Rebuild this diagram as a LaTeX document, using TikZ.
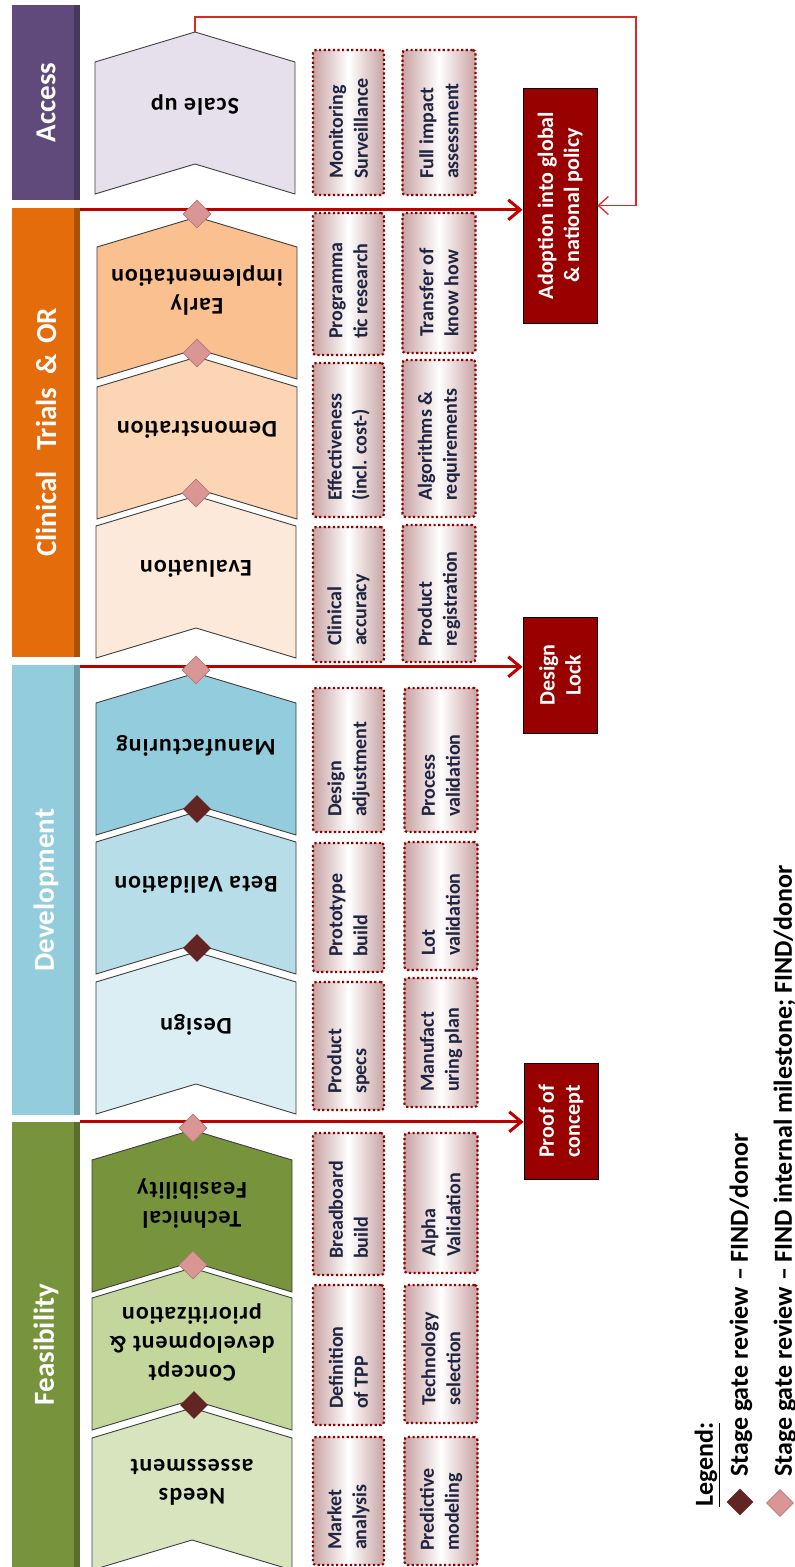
\documentclass[tikz,border=0pt]{standalone}
\usepackage{fontspec}
\setmainfont{Carlito}
\newfontfamily\spacedfont[LetterSpace=4]{Carlito}
\usetikzlibrary{shapes.geometric,arrows.meta}

\definecolor{accesscol}{HTML}{604A7B}
\definecolor{trialscol}{HTML}{E46C0A}
\definecolor{develcol}{HTML}{93CDDD}
\definecolor{feascol}{HTML}{77933C}
\definecolor{scalecol}{HTML}{E6E0EC}
\definecolor{earlycol}{HTML}{FAC090}
\definecolor{democol}{HTML}{FCD5B5}
\definecolor{evalcol}{HTML}{FDE9D9}
\definecolor{manucol}{HTML}{93CDDD}
\definecolor{betacol}{HTML}{B7DEE8}
\definecolor{designcol}{HTML}{DBEEF4}
\definecolor{techcol}{HTML}{77933C}
\definecolor{conceptcol}{HTML}{C3D69B}
\definecolor{needscol}{HTML}{D7E4BD}
\definecolor{chevline}{HTML}{3F3F3F}
\definecolor{darkgate}{HTML}{632523}
\definecolor{pinkgate}{HTML}{D99694}
\definecolor{pinkedge}{HTML}{B97574}
\definecolor{linered}{HTML}{C00000}
\definecolor{fbred}{HTML}{D42A2A}
\definecolor{gatered}{HTML}{990000}
\definecolor{boxred}{HTML}{8B0000}
\definecolor{boxpink}{HTML}{C9A3A3}
\definecolor{boxtextcol}{HTML}{1F2440}

\begin{document}
\begin{tikzpicture}[x=1pt,y=-1pt,
	phase/.style={minimum width=68pt, inner sep=0pt, text=white, font=\fontsize{29}{34}\selectfont\bfseries,
		path picture={\fill[black, opacity=0.25] ([xshift=-6pt]path picture bounding box.north east) rectangle (path picture bounding box.south east);}},
	chev/.style={draw=chevline, line width=0.9pt},
	chevtext/.style={rotate=180, align=center, inner sep=0pt, font=\spacedfont\bfseries\fontsize{24}{29}\selectfont},
	dotbox/.style={draw=boxred, line width=2.2pt, dash pattern=on 2.2pt off 2.4pt, rounded corners=3pt,
		left color=boxpink, right color=boxpink, middle color=white, inner sep=0pt},
	boxtext/.style={rotate=90, anchor=west, align=left, inner sep=0pt, text=boxtextcol, font=\bfseries\fontsize{20}{25}\selectfont},
	gatebox/.style={rotate=90, draw=black, line width=0.8pt, fill=gatered, text=white, align=center, minimum height=74pt, inner sep=2pt, font=\bfseries\fontsize{22}{26}\selectfont},
	gateline/.style={draw=linered, line width=3pt, -{Straight Barb[length=12pt,width=20pt]}},
	feedback/.style={draw=fbred, line width=1.3pt, -{Straight Barb[length=10pt,width=18pt]}},
	fdgate/.style={diamond, fill=darkgate, minimum size=28pt, inner sep=0pt},
	ingate/.style={diamond, fill=pinkgate, draw=pinkedge, line width=0.6pt, minimum size=28pt, inner sep=0pt},
	legtext/.style={rotate=90, anchor=west, inner sep=0pt, font=\bfseries\fontsize{26}{31}\selectfont}]
			\useasboundingbox (0,0) rectangle (795,1567);

			\node[phase, fill=accesscol, minimum height=195pt] (access) at (46,102.5) {\rotatebox{90}{Access}};
			\node[phase, fill=trialscol, minimum height=449pt] (trials) at (46,432.5) {\rotatebox{90}{Clinical\hspace{0.7em}Trials\hspace{0.45em}\&\hspace{0.35em}OR}};
			\node[phase, fill=develcol, minimum height=450pt] (devel) at (46,890) {\rotatebox{90}{Development}};
			\node[phase, fill=feascol, minimum height=445pt] (feas) at (46,1344.5) {\rotatebox{90}{Feasibility}};

			\filldraw[chev, fill=scalecol] (195,32) -- ++(100,30) -- ++(0,132) -- ++(-100,-30) -- ++(-100,30) -- ++(0,-132) -- cycle;
			\filldraw[chev, fill=earlycol] (197,217) -- ++(100,30) -- ++(0,132) -- ++(-100,-30) -- ++(-100,30) -- ++(0,-132) -- cycle;
			\filldraw[chev, fill=democol] (197,357) -- ++(100,30) -- ++(0,132) -- ++(-100,-30) -- ++(-100,30) -- ++(0,-132) -- cycle;
			\filldraw[chev, fill=evalcol] (196,496) -- ++(100,30) -- ++(0,132) -- ++(-100,-30) -- ++(-100,30) -- ++(0,-132) -- cycle;
			\filldraw[chev, fill=manucol] (196,673) -- ++(100,30) -- ++(0,132) -- ++(-100,-30) -- ++(-100,30) -- ++(0,-132) -- cycle;
			\filldraw[chev, fill=betacol] (196,812) -- ++(100,30) -- ++(0,132) -- ++(-100,-30) -- ++(-100,30) -- ++(0,-132) -- cycle;
			\filldraw[chev, fill=designcol] (196,952) -- ++(100,30) -- ++(0,132) -- ++(-100,-30) -- ++(-100,30) -- ++(0,-132) -- cycle;
			\filldraw[chev, fill=techcol] (192,1130) -- ++(100,30) -- ++(0,132) -- ++(-100,-30) -- ++(-100,30) -- ++(0,-132) -- cycle;
			\filldraw[chev, fill=conceptcol] (192,1268) -- ++(100,30) -- ++(0,132) -- ++(-100,-30) -- ++(-100,30) -- ++(0,-132) -- cycle;
			\filldraw[chev, fill=needscol] (192,1408) -- ++(100,30) -- ++(0,132) -- ++(-100,-30) -- ++(-100,30) -- ++(0,-132) -- cycle;

			\node[chevtext] (scaleup) at (195,105) {Scale up};
			\node[chevtext] (earlyimp) at (197,291) {Early\\implementation};
			\node[chevtext] (demo) at (197,430) {Demonstration};
			\node[chevtext] (evaluation) at (196,569) {Evaluation};
			\node[chevtext] (manuf) at (196,746) {Manufacturing};
			\node[chevtext] (betaval) at (196,885) {Beta Validation};
			\node[chevtext] (design) at (196,1025) {Design};
			\node[chevtext] (techfeas) at (192,1204) {Technical\\Feasibility};
			\node[chevtext] (concept) at (192,1342) {Concept\\development \&\\prioritization};
			\node[chevtext] (needs) at (192,1482) {Needs\\assessment};

			\node[dotbox, minimum width=71pt, minimum height=145pt] (mon) at (348.5,122.5) {};
			\node[dotbox, minimum width=71pt, minimum height=142pt] (prog) at (348.5,284) {};
			\node[dotbox, minimum width=71pt, minimum height=154pt] (effect) at (348.5,440) {};
			\node[dotbox, minimum width=71pt, minimum height=135pt] (clinacc) at (348.5,594.5) {};
			\node[dotbox, minimum width=71pt, minimum height=144pt] (desadj) at (348.5,760) {};
			\node[dotbox, minimum width=71pt, minimum height=129pt] (proto) at (348.5,907.5) {};
			\node[dotbox, minimum width=71pt, minimum height=128pt] (pspecs) at (348.5,1046) {};
			\node[dotbox, minimum width=71pt, minimum height=142pt] (bread) at (348.5,1204) {};
			\node[dotbox, minimum width=71pt, minimum height=140pt] (tpp) at (348.5,1355) {};
			\node[dotbox, minimum width=71pt, minimum height=128pt] (market) at (348.5,1501) {};

			\node[dotbox, minimum width=73pt, minimum height=145pt] (impact) at (439,122.5) {};
			\node[dotbox, minimum width=73pt, minimum height=140pt] (knowhow) at (439,283) {};
			\node[dotbox, minimum width=73pt, minimum height=157pt] (algo) at (439,438.5) {};
			\node[dotbox, minimum width=73pt, minimum height=137pt] (preg) at (439,593.5) {};
			\node[dotbox, minimum width=73pt, minimum height=144pt] (procval) at (441,760) {};
			\node[dotbox, minimum width=73pt, minimum height=128pt] (lotval) at (441,906) {};
			\node[dotbox, minimum width=73pt, minimum height=129pt] (mplan) at (441,1042.5) {};
			\node[dotbox, minimum width=73pt, minimum height=140pt] (alpha) at (441,1203) {};
			\node[dotbox, minimum width=73pt, minimum height=138pt] (techsel) at (441,1354) {};
			\node[dotbox, minimum width=73pt, minimum height=128pt] (predict) at (441,1501) {};

			\node[boxtext] (mon-t) at ([yshift=17pt]mon.south) {Monitoring\\Surveillance};
			\node[boxtext] (prog-t) at ([yshift=17pt]prog.south) {Programma\\tic research};
			\node[boxtext] (effect-t) at ([yshift=17pt]effect.south) {Effectiveness\\(incl. cost-)};
			\node[boxtext] (clinacc-t) at ([yshift=17pt]clinacc.south) {Clinical\\accuracy};
			\node[boxtext] (desadj-t) at ([yshift=16pt]desadj.south) {Design\\adjustment};
			\node[boxtext] (proto-t) at ([yshift=16pt]proto.south) {Prototype\\build};
			\node[boxtext] (pspecs-t) at ([yshift=17pt]pspecs.south) {Product\\specs};
			\node[boxtext] (bread-t) at ([yshift=17pt]bread.south) {Breadboard\\build};
			\node[boxtext] (tpp-t) at ([yshift=17pt]tpp.south) {Definition\\of TPP};
			\node[boxtext] (market-t) at ([yshift=16pt]market.south) {Market\\analysis};

			\node[boxtext] (impact-t) at ([yshift=17pt]impact.south) {Full impact\\assessment};
			\node[boxtext] (knowhow-t) at ([yshift=17pt]knowhow.south) {Transfer of\\know how};
			\node[boxtext] (algo-t) at ([yshift=17pt]algo.south) {Algorithms \&\\requirements};
			\node[boxtext] (preg-t) at ([yshift=16pt]preg.south) {Product\\registration};
			\node[boxtext] (procval-t) at ([yshift=16pt]procval.south) {Process\\validation};
			\node[boxtext] (lotval-t) at ([yshift=15pt]lotval.south) {Lot\\validation};
			\node[boxtext] (mplan-t) at ([yshift=16pt]mplan.south) {Manufact\\uring plan};
			\node[boxtext] (alpha-t) at ([yshift=17pt]alpha.south) {Alpha\\Validation};
			\node[boxtext] (techsel-t) at ([yshift=18pt]techsel.south) {Technology\\selection};
			\node[boxtext] (predict-t) at ([yshift=15pt]predict.south) {Predictive\\modeling};

			\node[gatebox, minimum width=235pt] (adopt) at (560,205.5) {Adoption into global\\\& national policy};
			\node[gatebox, minimum width=116pt] (dlock) at (560,675) {Design\\Lock};
			\node[gatebox, minimum width=116pt] (proof) at (561,1121) {Proof of\\concept};

			\draw[gateline] ([yshift=-2pt]trials.north east) -- ([yshift=-2pt]trials.north east -| adopt.north);
			\draw[gateline] ([yshift=-2pt]devel.north east) -- ([yshift=-2pt]devel.north east -| dlock.north);
			\draw[gateline] (feas.north east) -- (feas.north east -| proof.north);

			\coordinate (suapex) at (195,32);
			\coordinate (fbturn) at (636,17);
			\draw[feedback] (suapex) |- (fbturn) |- (adopt.south);

			\node[ingate] (g1) at (197,214) {};
			\node[ingate] (g2) at (197,353) {};
			\node[ingate] (g3) at (196,493) {};
			\node[ingate] (g4) at (196,670) {};
			\node[fdgate] (g5) at (197,809) {};
			\node[fdgate] (g6) at (197,948) {};
			\node[ingate] (g7) at (193,1128) {};
			\node[ingate] (g8) at (193,1265) {};
			\node[fdgate] (g9) at (194,1405) {};

			\node[legtext] (leghead) at (707,1507) {\underline{Legend:}};
			\node[fdgate, minimum size=27pt] (legfd) at (740,1502) {};
			\node[legtext] (legfd-t) at (741,1477) {Stage gate review – FIND/donor};
			\node[ingate, minimum size=27pt] (legin) at (780,1503) {};
			\node[legtext] (legin-t) at (785,1477) {Stage gate review – FIND internal milestone; FIND/donor};
		\end{tikzpicture}
\end{document}
